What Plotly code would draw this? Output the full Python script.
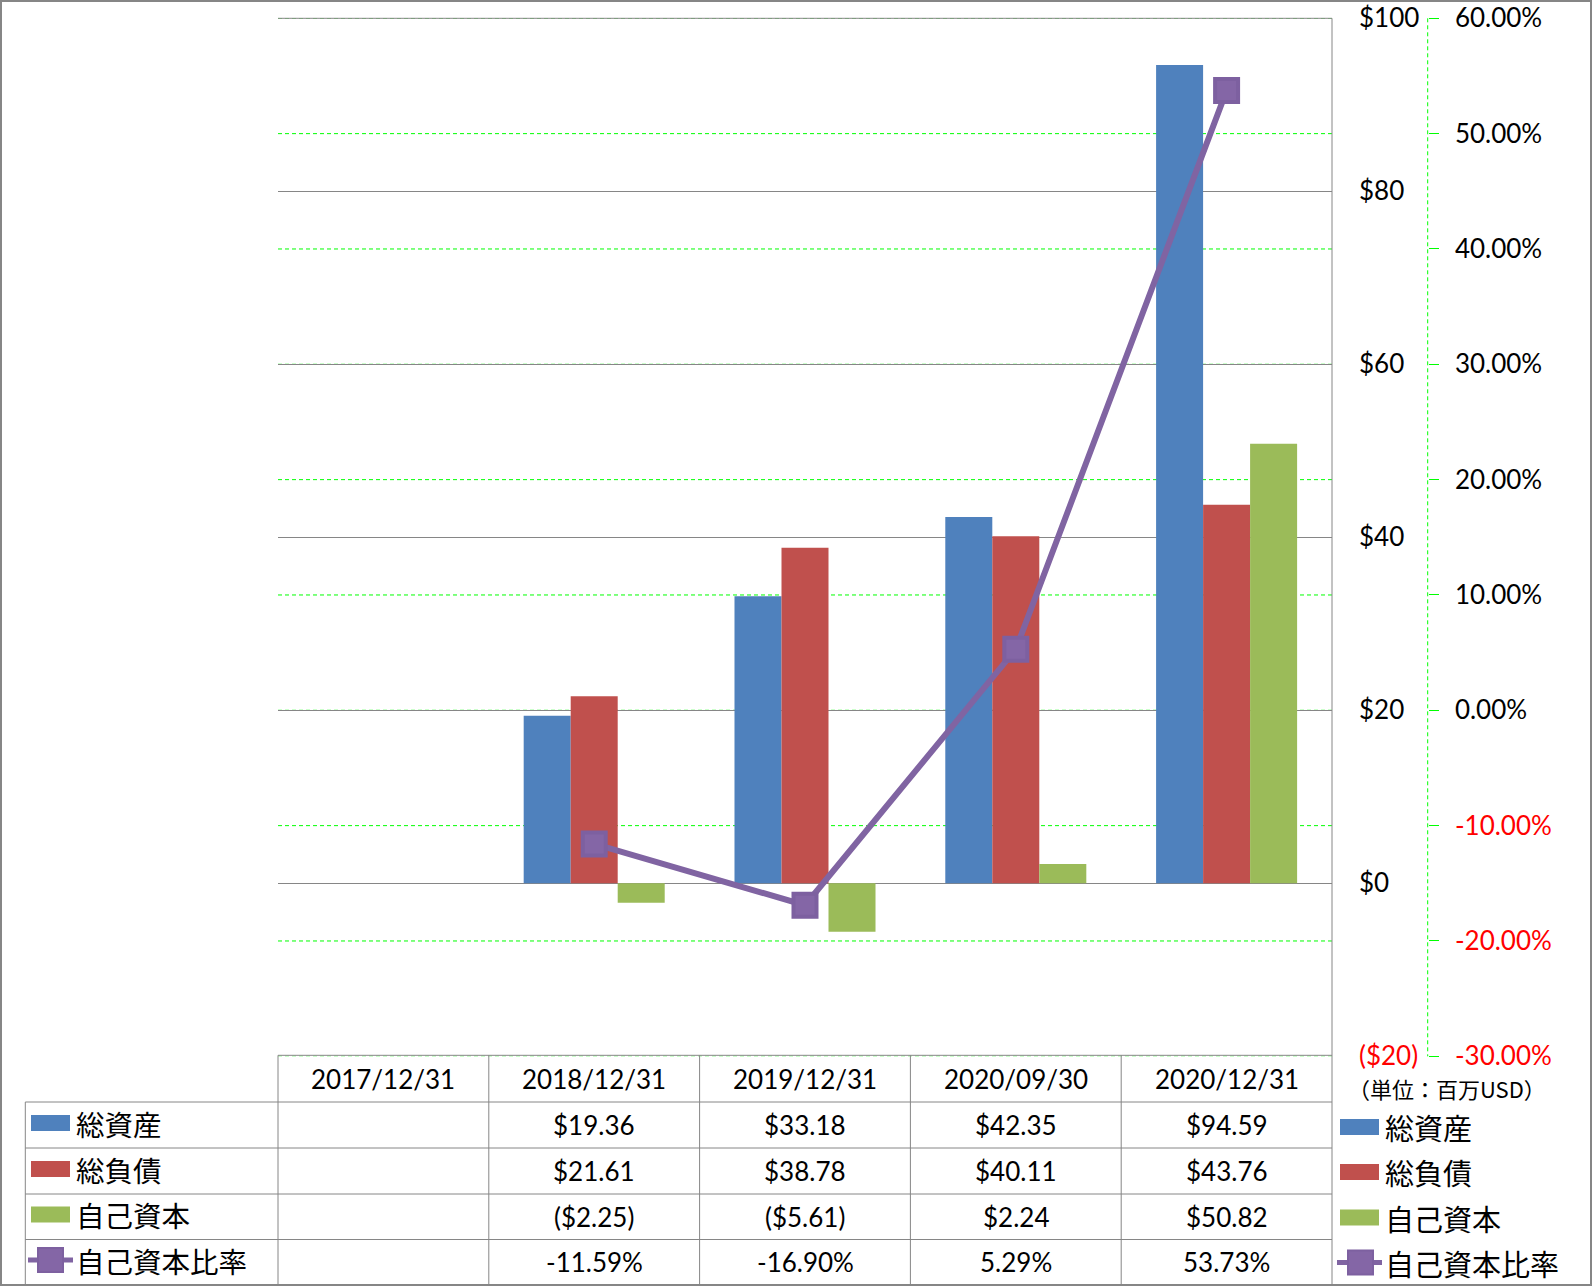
import plotly.graph_objects as go

# ---------------- data ----------------
categories = ["2017/12/31", "2018/12/31", "2019/12/31", "2020/09/30", "2020/12/31"]
total_assets = [None, 19.36, 33.18, 42.35, 94.59]
total_liabilities = [None, 21.61, 38.78, 40.11, 43.76]
equity = [None, -2.25, -5.61, 2.24, 50.82]
equity_ratio = [None, -11.59, -16.90, 5.29, 53.73]
series_names = ["総資産", "総負債", "自己資本", "自己資本比率"]
usd_ticks = [-20, 0, 20, 40, 60, 80, 100]
pct_ticks = [-30, -20, -10, 0, 10, 20, 30, 40, 50, 60]
unit_label = "（単位：百万USD）"

# ---------------- styling ----------------
W, H = 1592, 1286
BLUE, RED, GREEN, PURPLE = "#4F81BD", "#C0504D", "#9BBB59", "#8064A2"
GRAY = "#868686"
LIME = "#00FF00"
NUM_FONT = "Lato, 'Open Sans', sans-serif"
JP_FONT = "'Noto Sans CJK JP', sans-serif"


def px(x):
    return x / W


def py(y):
    return 1 - y / H


PLOT_L, PLOT_R, PLOT_T, PLOT_B = 278, 1332, 18.3, 1056.3
Y2_X = 1427.7


def red(s):
    return f'<span style="color:#FF0000">{s}</span>'


def money(v):
    return f"${v:.2f}" if v >= 0 else f"(${-v:.2f})"


def money_tick(v):
    return f"${v}" if v >= 0 else red(f"(${-v})")


def pct_tick(v):
    s = f"{v:.2f}%"
    return s if v >= 0 else red(s)


fig = go.Figure()
bar_series = [total_assets, total_liabilities, equity]
bar_colors = [BLUE, RED, GREEN]
for name, vals, col in zip(series_names[:3], bar_series, bar_colors):
    fig.add_trace(go.Bar(x=categories, y=vals, name=name, marker_color=col,
                         marker_line_width=0, yaxis="y"))
fig.add_trace(go.Scatter(x=categories, y=equity_ratio, name=series_names[3], yaxis="y2",
                         mode="lines+markers",
                         line=dict(color=PURPLE, width=6),
                         marker=dict(symbol="square", size=23, color="#8466A6",
                                     line=dict(color="#7D60A0", width=4))))

shapes = []


def hline(y, x0, x1, color=GRAY, width=1, dash=None):
    d = dict(type="line", xref="paper", yref="paper", x0=px(x0), x1=px(x1), y0=py(y), y1=py(y),
             line=dict(color=color, width=width))
    if dash:
        d["line"]["dash"] = dash
    shapes.append(d)


def vline(x, y0, y1, color=GRAY, width=1, dash=None):
    d = dict(type="line", xref="paper", yref="paper", x0=px(x), x1=px(x), y0=py(y0), y1=py(y1),
             line=dict(color=color, width=width))
    if dash:
        d["line"]["dash"] = dash
    shapes.append(d)


# green dashed gridlines of the percent axis (below the gray grid and the bars)
for v in pct_ticks:
    shapes.append(dict(type="line", xref="paper", yref="y2", x0=px(PLOT_L), x1=px(PLOT_R),
                       y0=v, y1=v, layer="below",
                       line=dict(color=LIME, width=1, dash="4px,3px")))

# top frame line of plot area
hline(PLOT_T, PLOT_L, PLOT_R)

# table grid
col_w = (PLOT_R - PLOT_L) / len(categories)
col_edges = [PLOT_L + i * col_w for i in range(len(categories) + 1)]
row_edges = [1055.3, 1102, 1148, 1194, 1239.5, 1285]
hline(row_edges[0], PLOT_L, PLOT_R)
for y in row_edges[1:]:
    hline(y, 25.3, PLOT_R)
vline(25.3, row_edges[1], row_edges[-1])
for x in col_edges[:-1]:
    vline(x, row_edges[0], row_edges[-1])
vline(PLOT_R, PLOT_T, row_edges[-1])
# secondary axis dashed line
vline(Y2_X, PLOT_T, PLOT_B, color=LIME, width=1, dash="4px,3px")
# outer border
shapes.append(dict(type="rect", xref="paper", yref="paper", x0=0, x1=1, y0=0, y1=1,
                   line=dict(color=GRAY, width=4), fillcolor="rgba(0,0,0,0)"))

annotations = []
row_centers = [(row_edges[i] + row_edges[i + 1]) / 2 for i in range(len(row_edges) - 1)]

# header
for c in categories:
    annotations.append(dict(x=c, xref="x", y=py(row_centers[0]), yref="paper", text=c,
                            showarrow=False, font=dict(family=NUM_FONT, size=26, color="black"),
                            xanchor="center", yanchor="middle"))
# values
table_rows = [
    [money(v) if v is not None else "" for v in total_assets],
    [money(v) if v is not None else "" for v in total_liabilities],
    [money(v) if v is not None else "" for v in equity],
    [f"{v:.2f}%" if v is not None else "" for v in equity_ratio],
]
for r, row in enumerate(table_rows):
    for c, txt in zip(categories, row):
        if txt:
            annotations.append(dict(x=c, xref="x", y=py(row_centers[r + 1]), yref="paper", text=txt,
                                    showarrow=False, font=dict(family=NUM_FONT, size=26, color="black"),
                                    xanchor="center", yanchor="middle"))

# legends (left in table, right outside)
left_centers = [1123, 1169, 1214.5, 1260]
right_centers = [1127, 1172, 1217.5, 1262.5]
for (lx0, lx1, tx, centers, sq, fs) in [(31, 70, 74, left_centers, (38, 63, 28, 73), 28.5),
                                        (1340, 1379, 1383, right_centers, (1348, 1373, 1337, 1382), 29)]:
    for i, col in enumerate(bar_colors):
        cy = centers[i]
        shapes.append(dict(type="rect", xref="paper", yref="paper", x0=px(lx0), x1=px(lx1),
                           y0=py(cy + 8), y1=py(cy - 8), line=dict(width=0), fillcolor=col))
    cy = centers[3]
    hline(cy, sq[2], sq[3], color=PURPLE, width=5)
    shapes.append(dict(type="rect", xref="paper", yref="paper", x0=px(sq[0]), x1=px(sq[1]),
                       y0=py(cy + 12), y1=py(cy - 12), line=dict(color="#7D60A0", width=2),
                       fillcolor="#8466A6"))
    for i, nm in enumerate(series_names):
        annotations.append(dict(x=px(tx), xref="paper", y=py(centers[i]), yref="paper", text=nm,
                                showarrow=False, font=dict(family=JP_FONT, size=fs, color="black"),
                                xanchor="left", yanchor="middle"))

annotations.append(dict(x=px(1446.5), xref="paper", y=py(1088), yref="paper", text=unit_label,
                        showarrow=False, font=dict(family=JP_FONT, size=22, color="black"),
                        xanchor="center", yanchor="middle"))

fig.update_layout(
    width=W, height=H, autosize=False,
    margin=dict(l=0, r=0, t=0, b=0, pad=0, autoexpand=False),
    paper_bgcolor="white", plot_bgcolor="rgba(0,0,0,0)",
    showlegend=False,
    barmode="group", bargap=0.331, bargroupgap=0,
    xaxis=dict(domain=[px(PLOT_L), px(PLOT_R)], type="category", showgrid=False,
               showticklabels=False, showline=False, ticks="", zeroline=False,
               automargin=False, range=[-0.5, len(categories) - 0.5]),
    yaxis=dict(domain=[py(PLOT_B), py(PLOT_T)], range=[-20, 100], side="right",
               tickvals=usd_ticks, ticktext=[money_tick(v) for v in usd_ticks],
               showgrid=True, gridcolor=GRAY, gridwidth=1, zeroline=False, showline=False,
               ticks="", ticklabelstandoff=26, automargin=False,
               tickfont=dict(family=NUM_FONT, size=26, color="black")),
    yaxis2=dict(range=[-30, 60], overlaying="y", side="right", anchor="free",
                position=px(Y2_X),
                tickvals=pct_ticks, ticktext=[pct_tick(v) for v in pct_ticks],
                showgrid=False, zeroline=False, showline=False,
                ticks="outside", ticklen=10, tickcolor=LIME, tickwidth=1,
                ticklabelstandoff=11, automargin=False,
                tickfont=dict(family=NUM_FONT, size=26, color="black")),
    shapes=shapes,
    annotations=annotations,
)

fig.write_html("out.html", config={"displayModeBar": False})
